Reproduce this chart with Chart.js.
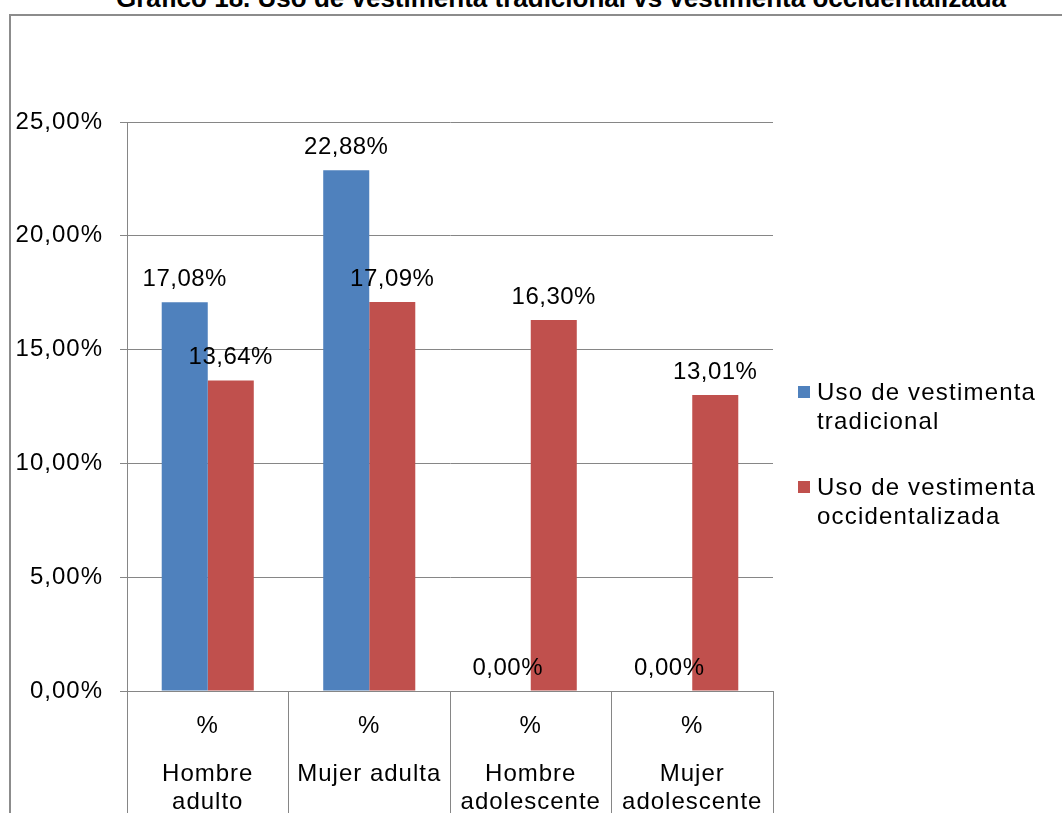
<!DOCTYPE html>
<html>
<head>
<meta charset="utf-8">
<script src="https://cdn.jsdelivr.net/npm/chart.js"></script>
<style>
body{margin:0;width:1062px;height:813px;overflow:hidden;background:#fff;position:relative;font-family:"Liberation Sans",Arial,sans-serif}
#title{position:absolute;left:0;width:1122px;top:-15px;text-align:center;font-weight:bold;font-size:26px;line-height:26px;color:#000}
#frame{position:absolute;left:9px;top:14px;width:1100px;height:900px;border-left:2px solid #8c8c8c;border-top:2px solid #8c8c8c}
#wrap{position:absolute;left:0;top:0;width:1062px;height:820px}
</style>
</head>
<body>
<div id="title">Gráfico 18. Uso de vestimenta tradicional vs vestimenta occidentalizada</div>
<div id="frame"></div>
<div id="wrap"><canvas id="myChart"></canvas></div>
<script>
// datos
var categoryLines = [['Hombre', 'adulto'], ['Mujer adulta'], ['Hombre', 'adolescente'], ['Mujer', 'adolescente']];
var unitLabels = ['%', '%', '%', '%'];
var seriesNames = ['Uso de vestimenta tradicional', 'Uso de vestimenta occidentalizada'];
var legendLines = [['Uso de vestimenta', 'tradicional'], ['Uso de vestimenta', 'occidentalizada']];
var tradicional = [17.08, 22.88, 0.00, 0.00];
var occidentalizada = [13.64, 17.09, 16.30, 13.01];
var yMin = 0, yMax = 25, yStep = 5;

var colores = ['#4f81bd', '#c0504d'];
var gris = '#868686';

function pct(v) {
    return v.toFixed(2).replace('.', ',') + '%';
}

Chart.defaults.font.family = '"Liberation Sans", Arial, sans-serif';
Chart.defaults.color = '#000';

// el texto del original sale algo mas ancho: un poco de espaciado
var espaciado = {
    id: 'espaciado',
    beforeDraw: function(chart) {
        chart.ctx.letterSpacing = '1px';
    },
    beforeDatasetsDraw: function(chart) {
        chart.ctx.letterSpacing = '0px';
    }
};

// etiquetas encima de cada barra
var etiquetas = {
    id: 'etiquetas',
    afterDatasetsDraw: function(chart) {
        var ctx = chart.ctx;
        ctx.save();
        ctx.font = '24px "Liberation Sans", Arial, sans-serif';
        ctx.letterSpacing = '0.5px';
        ctx.fillStyle = '#000';
        ctx.textAlign = 'center';
        ctx.textBaseline = 'middle';
        chart.data.datasets.forEach(function(ds, d) {
            chart.getDatasetMeta(d).data.forEach(function(bar, i) {
                ctx.fillText(pct(ds.data[i]), bar.x, bar.y - 23);
            });
        });
        ctx.restore();
    }
};

// leyenda a la derecha con texto en dos lineas
var leyenda = {
    id: 'leyenda',
    afterDraw: function(chart) {
        var ctx = chart.ctx;
        var x = chart.chartArea.right + 25;
        var tops = [393, 488];
        ctx.save();
        ctx.font = '24px "Liberation Sans", Arial, sans-serif';
        ctx.letterSpacing = '1.2px';
        ctx.textBaseline = 'middle';
        ctx.textAlign = 'left';
        chart.data.datasets.forEach(function(ds, d) {
            ctx.fillStyle = ds.backgroundColor;
            ctx.fillRect(x, tops[d] - 7, 12, 12);
            ctx.fillStyle = '#000';
            legendLines[d].forEach(function(line, k) {
                ctx.fillText(line, x + 19, tops[d] + k * 29);
            });
        });
        ctx.restore();
    }
};

var chartdata = {
    labels: unitLabels,
    datasets: [
        {
            label: seriesNames[0],
            backgroundColor: colores[0],
            data: tradicional,
            categoryPercentage: 0.57,
            barPercentage: 1.0
        },
        {
            label: seriesNames[1],
            backgroundColor: colores[1],
            data: occidentalizada,
            categoryPercentage: 0.57,
            barPercentage: 1.0
        }
    ]
};

new Chart('myChart', {
    type: 'bar',
    data: chartdata,
    plugins: [espaciado, etiquetas, leyenda],
    options: {
        responsive: true,
        maintainAspectRatio: false,
        animation: false,
        layout: { padding: { left: 10, right: 289, top: 122, bottom: 4 } },
        plugins: {
            legend: { display: false },
            title: { display: false },
            tooltip: { enabled: false }
        },
        scales: {
            y: {
                min: yMin,
                max: yMax,
                ticks: {
                    stepSize: yStep,
                    padding: 17,
                    font: { size: 24 },
                    callback: function(v) { return pct(v); }
                },
                grid: { color: gris, tickLength: 7 },
                border: { color: gris },
                afterFit: function(scale) { scale.width = 117; }
            },
            x: {
                weight: 0,
                offset: true,
                grid: { offset: true, drawOnChartArea: false, tickLength: 50, color: gris },
                border: { color: gris },
                ticks: { padding: -29, maxRotation: 0, autoSkip: false, font: { size: 24, lineHeight: 1.2 } },
                afterFit: function(scale) { scale.height = 50; }
            },
            x2: {
                type: 'category',
                position: 'bottom',
                weight: 1,
                labels: categoryLines,
                offset: true,
                grid: { offset: true, drawOnChartArea: false, tickLength: 75, color: gris },
                border: { display: false },
                ticks: { padding: -56, maxRotation: 0, autoSkip: false, font: { size: 24, lineHeight: 1.1667 } },
                afterFit: function(scale) { scale.height = 75; }
            }
        }
    }
});
</script>
</body>
</html>
